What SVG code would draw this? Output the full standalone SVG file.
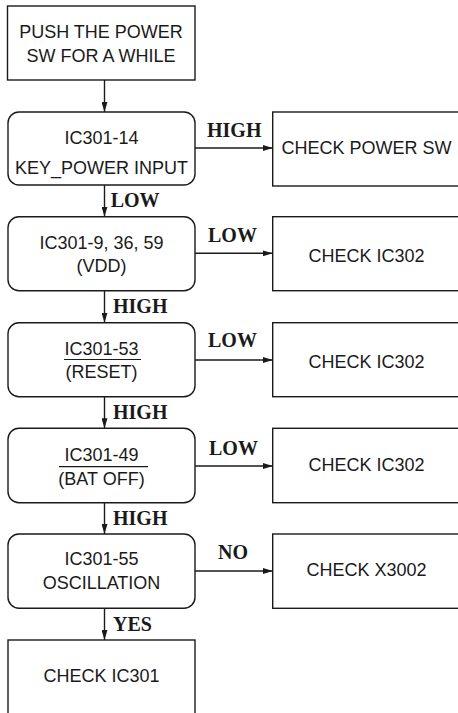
<svg xmlns="http://www.w3.org/2000/svg" width="458" height="713" viewBox="0 0 458 713">
<defs>
<marker id="ah" viewBox="0 0 10 6" refX="10" refY="3" markerWidth="10" markerHeight="6" markerUnits="userSpaceOnUse" orient="auto">
<path d="M0,0 L10,3 L0,6 z" fill="#1a1a1a"/>
</marker>
<style>
.box{fill:#fff;stroke:#1a1a1a;stroke-width:1.4}
.t{font-family:"Liberation Sans",Arial,sans-serif;font-size:18px;fill:#1a1a1a;text-anchor:middle}
.lbl{font-family:"Liberation Serif","Times New Roman",serif;font-size:20px;font-weight:bold;fill:#1a1a1a}
.c{fill:none;stroke:#1a1a1a;stroke-width:1.4}
.ol{stroke:#1a1a1a;stroke-width:1.2}
</style>
</defs>
<rect width="458" height="713" fill="#fff"/>
<g id="connectors">
<line class="c" x1="104.5" y1="80" x2="104.5" y2="112" marker-end="url(#ah)"/>
<line class="c" x1="104.5" y1="185" x2="104.5" y2="216.7" marker-end="url(#ah)"/>
<line class="c" x1="104.5" y1="290.7" x2="104.5" y2="322.7" marker-end="url(#ah)"/>
<line class="c" x1="104.5" y1="396.7" x2="104.5" y2="428.3" marker-end="url(#ah)"/>
<line class="c" x1="104.5" y1="502.7" x2="104.5" y2="534" marker-end="url(#ah)"/>
<line class="c" x1="104.5" y1="608.3" x2="104.5" y2="640" marker-end="url(#ah)"/>
<line class="c" x1="195" y1="148" x2="272.7" y2="148" marker-end="url(#ah)"/>
<line class="c" x1="195" y1="253.3" x2="272.7" y2="253.3" marker-end="url(#ah)"/>
<line class="c" x1="195" y1="360" x2="272.7" y2="360" marker-end="url(#ah)"/>
<line class="c" x1="195" y1="466" x2="272.7" y2="466" marker-end="url(#ah)"/>
<line class="c" x1="195" y1="571" x2="272.7" y2="571" marker-end="url(#ah)"/>
<text class="lbl" x="207" y="137">HIGH</text>
<text class="lbl" x="110.7" y="206.7">LOW</text>
<text class="lbl" x="208" y="242">LOW</text>
<text class="lbl" x="113" y="313">HIGH</text>
<text class="lbl" x="208" y="347">LOW</text>
<text class="lbl" x="113" y="419">HIGH</text>
<text class="lbl" x="209" y="455">LOW</text>
<text class="lbl" x="113" y="525">HIGH</text>
<text class="lbl" x="218" y="559">NO</text>
<text class="lbl" x="113" y="631">YES</text>
</g>
<g id="n-start">
<rect class="box" x="7.5" y="6" width="187.5" height="74"/>
<text class="t" x="101" y="37.5">PUSH THE POWER</text>
<text class="t" x="101" y="62">SW FOR A WHILE</text>
</g>
<g id="n-key">
<rect class="box" x="8" y="112" width="187" height="73" rx="11"/>
<text class="t" x="101.5" y="144">IC301-14</text>
<text class="t" x="101.5" y="174">KEY_POWER INPUT</text>
</g>
<g id="n-powersw">
<rect class="box" x="272.7" y="112" width="200" height="74"/>
<text class="t" x="366.5" y="154">CHECK POWER SW</text>
</g>
<g id="n-vdd">
<rect class="box" x="8" y="216.7" width="187" height="74" rx="11"/>
<text class="t" x="101.5" y="249">IC301-9, 36, 59</text>
<text class="t" x="101.5" y="271.7">(VDD)</text>
</g>
<g id="n-ic302a">
<rect class="box" x="272.7" y="216.7" width="200" height="74"/>
<text class="t" x="366.5" y="261.7">CHECK IC302</text>
</g>
<g id="n-reset">
<rect class="box" x="8" y="322.7" width="187" height="74" rx="11"/>
<text class="t" x="101.5" y="355">IC301-53</text>
<line class="ol" x1="64" y1="359.5" x2="141" y2="359.5"/>
<text class="t" x="101.5" y="378">(RESET)</text>
</g>
<g id="n-ic302b">
<rect class="box" x="272.7" y="322.7" width="200" height="74"/>
<text class="t" x="366.5" y="367.7">CHECK IC302</text>
</g>
<g id="n-batoff">
<rect class="box" x="8" y="428.3" width="187" height="74.4" rx="11"/>
<text class="t" x="101.5" y="460.7">IC301-49</text>
<line class="ol" x1="59" y1="466.7" x2="148" y2="466.7"/>
<text class="t" x="101.5" y="485">(BAT OFF)</text>
</g>
<g id="n-ic302c">
<rect class="box" x="272.7" y="428.3" width="200" height="74.4"/>
<text class="t" x="366.5" y="471">CHECK IC302</text>
</g>
<g id="n-osc">
<rect class="box" x="8" y="534" width="187" height="74.3" rx="11"/>
<text class="t" x="101.5" y="565">IC301-55</text>
<text class="t" x="101.5" y="589.3">OSCILLATION</text>
</g>
<g id="n-x3002">
<rect class="box" x="272.7" y="534" width="200" height="74.3"/>
<text class="t" x="366.5" y="575.7">CHECK X3002</text>
</g>
<g id="n-ic301">
<rect class="box" x="8" y="640" width="187" height="90"/>
<text class="t" x="101.5" y="681.7">CHECK IC301</text>
</g>
</svg>
